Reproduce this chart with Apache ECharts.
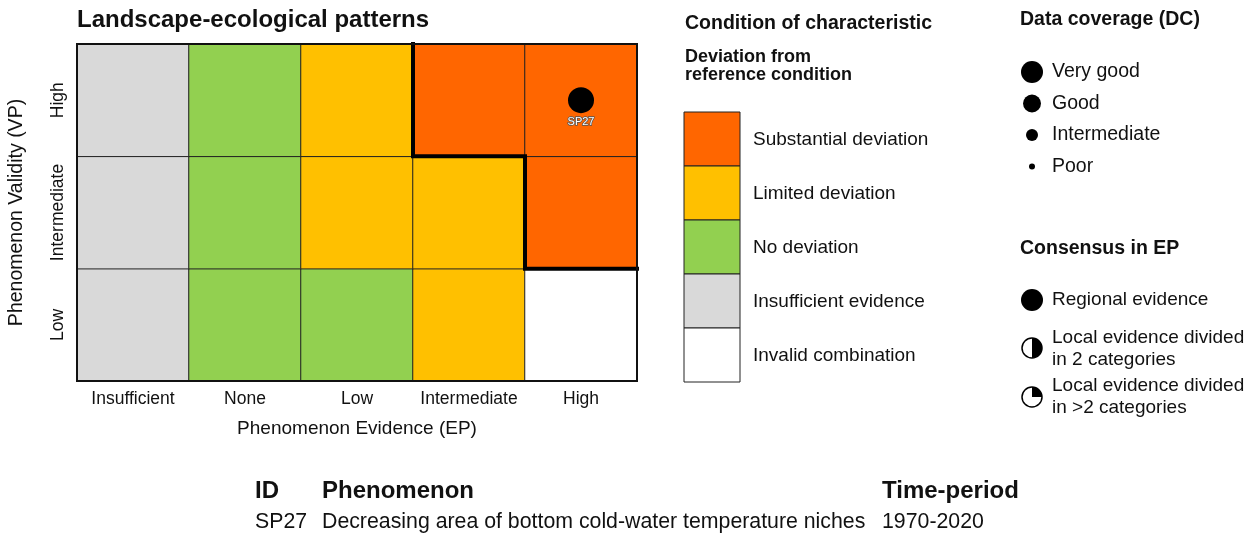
<!DOCTYPE html>
<html>
<head>
<meta charset="utf-8">
<script src="https://cdn.jsdelivr.net/npm/echarts@6/dist/echarts.min.js"></script>
<style>
  html, body { margin: 0; padding: 0; background: #fff; }
  #chart { width: 1253px; height: 536px; }
</style>
</head>
<body>
<div id="chart"></div>
<script>
// categories on the two axes
const epLevels = ['Insufficient', 'None', 'Low', 'Intermediate', 'High']
const vpLevels = ['Low', 'Intermediate', 'High']

// condition class for each cell, rows from Low to High VP
// 0 invalid, 1 insufficient, 2 no deviation, 3 limited, 4 substantial
const cellClassLow = [1, 2, 2, 3, 0]
const cellClassIntermediate = [1, 2, 3, 3, 4]
const cellClassHigh = [1, 2, 3, 4, 4]

// boundary of substantial deviation zone (ep, vp in cell units)
const boundaryEp = [3, 3, 4, 4, 5]
const boundaryVp = [3, 2, 2, 1, 1]

// phenomena
const phenIds = ['SP27']
const phenEp = ['High']
const phenVp = ['High']
const phenNames = ['Decreasing area of bottom cold-water temperature niches']
const phenPeriods = ['1970-2020']

// legends
const conditionLabels = ['Substantial deviation', 'Limited deviation', 'No deviation', 'Insufficient evidence', 'Invalid combination']
const conditionColors = ['#FF6600', '#FFC000', '#92D050', '#D9D9D9', '#FFFFFF']
const classColors = ['#FFFFFF', '#D9D9D9', '#92D050', '#FFC000', '#FF6600']
const coverageLabels = ['Very good', 'Good', 'Intermediate', 'Poor']
const coverageRadius = [11, 9, 6, 3]

const font = '"Liberation Sans", Arial, Helvetica, sans-serif'

const cellRows = [cellClassLow, cellClassIntermediate, cellClassHigh]
const heatData = []
cellRows.forEach((row, yi) => {
  row.forEach((c, xi) => heatData.push([xi, yi, c]))
})

const graphics = []
const txt = (x, y, text, size, bold, extra) => graphics.push(Object.assign({
  type: 'text', x: x, y: y,
  style: { text: text, font: (bold ? 'bold ' : '') + size + 'px ' + font, fill: '#111', textVerticalAlign: 'middle' }
}, extra || {}))

// condition legend
txt(685, 24, 'Condition of characteristic', 19.5, true)
txt(685, 57, 'Deviation from', 18, true)
txt(685, 75, 'reference condition', 18, true)
conditionLabels.forEach((lab, i) => {
  graphics.push({
    type: 'rect', shape: { x: 684, y: 112 + i * 54, width: 56, height: 54 },
    style: { fill: conditionColors[i], stroke: '#222', lineWidth: 1 }
  })
  txt(753, 112 + i * 54 + 28, lab, 19, false)
})

// data coverage legend
txt(1020, 20, 'Data coverage (DC)', 19.5, true)
coverageLabels.forEach((lab, i) => {
  const cy = 72 + i * 31.5
  graphics.push({ type: 'circle', shape: { cx: 1032, cy: cy, r: coverageRadius[i] }, style: { fill: '#000' } })
  txt(1052, cy, lab, 19.5, false)
})

// consensus legend
txt(1020, 249, 'Consensus in EP', 19.5, true)
graphics.push({ type: 'circle', shape: { cx: 1032, cy: 300, r: 11 }, style: { fill: '#000' } })
txt(1052, 300, 'Regional evidence', 19, false)
graphics.push({ type: 'circle', shape: { cx: 1032, cy: 348, r: 10 }, style: { fill: '#fff', stroke: '#000', lineWidth: 1.5 } })
graphics.push({ type: 'sector', shape: { cx: 1032, cy: 348, r: 10, startAngle: -Math.PI / 2, endAngle: Math.PI / 2 }, style: { fill: '#000' } })
txt(1052, 338, 'Local evidence divided', 19, false)
txt(1052, 360, 'in 2 categories', 19, false)
graphics.push({ type: 'circle', shape: { cx: 1032, cy: 397, r: 10 }, style: { fill: '#fff', stroke: '#000', lineWidth: 1.5 } })
graphics.push({ type: 'sector', shape: { cx: 1032, cy: 397, r: 10, startAngle: -Math.PI / 2, endAngle: 0 }, style: { fill: '#000' } })
txt(1052, 386, 'Local evidence divided', 19, false)
txt(1052, 408, 'in >2 categories', 19, false)

// phenomenon table
txt(255, 491, 'ID', 24, true)
txt(322, 491, 'Phenomenon', 24, true)
txt(882, 491, 'Time-period', 24, true)
phenIds.forEach((id, i) => {
  txt(255, 522 + i * 26, id, 21.3, false)
  txt(322, 522 + i * 26, phenNames[i], 21.3, false)
  txt(882, 522 + i * 26, phenPeriods[i], 21.3, false)
})

const chart = echarts.init(document.getElementById('chart'))
chart.setOption({
  animation: false,
  textStyle: { fontFamily: font },
  title: {
    text: 'Landscape-ecological patterns',
    left: 72, top: 3,
    textStyle: { fontSize: 24, fontWeight: 'bold', color: '#111', fontFamily: font }
  },
  grid: {
    left: 77, top: 44, width: 560, height: 337,
    show: true, borderColor: '#111', borderWidth: 2, backgroundColor: 'transparent', z: 10
  },
  xAxis: [{
    type: 'category', data: epLevels,
    name: 'Phenomenon Evidence (EP)', nameLocation: 'middle', nameGap: 38,
    nameTextStyle: { fontSize: 19, color: '#111' },
    axisLine: { show: false }, axisTick: { show: false }, splitLine: { show: false },
    axisLabel: { fontSize: 17.5, color: '#111', margin: 9, interval: 0 }
  }, {
    type: 'value', min: 0, max: 5, show: false
  }],
  yAxis: [{
    type: 'category', data: vpLevels,
    name: 'Phenomenon Validity (VP)', nameLocation: 'middle', nameGap: 50,
    nameTextStyle: { fontSize: 19.5, color: '#111' },
    axisLine: { show: false }, axisTick: { show: false }, splitLine: { show: false },
    axisLabel: { fontSize: 17.5, color: '#111', rotate: 90, margin: 10, interval: 0 }
  }, {
    type: 'value', min: 0, max: 3, show: false
  }],
  visualMap: {
    type: 'piecewise', show: false, seriesIndex: 0, dimension: 2,
    pieces: classColors.map((c, i) => ({ value: i, color: c }))
  },
  series: [{
    type: 'heatmap',
    data: heatData,
    itemStyle: { borderColor: '#222', borderWidth: 1 },
    emphasis: { disabled: true }
  }, {
    type: 'line',
    xAxisIndex: 1, yAxisIndex: 1,
    data: boundaryEp.map((x, i) => [x, boundaryVp[i]]),
    symbol: 'none',
    lineStyle: { color: '#000', width: 4, join: 'miter', cap: 'square' },
    z: 5
  }, {
    type: 'scatter',
    data: phenIds.map((id, i) => ({ value: [phenEp[i], phenVp[i]], name: id })),
    symbolSize: 26,
    itemStyle: { color: '#000', opacity: 1 },
    label: {
      show: true, position: 'bottom', distance: 3,
      formatter: '{b}', fontSize: 11, color: '#fff',
      textBorderColor: '#555', textBorderWidth: 1.5
    },
    z: 6
  }],
  graphic: graphics
})
</script>
</body>
</html>
